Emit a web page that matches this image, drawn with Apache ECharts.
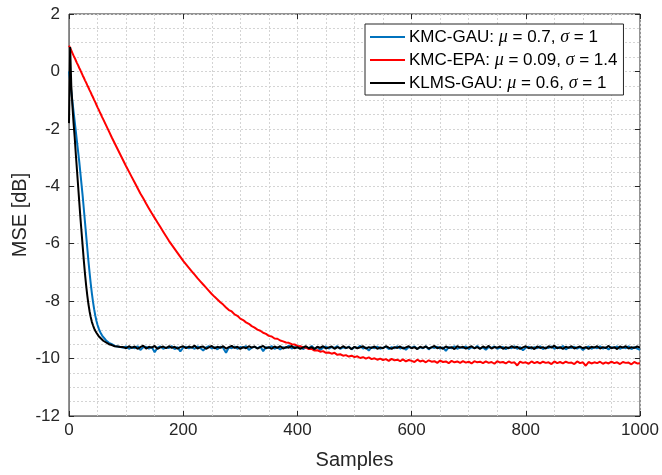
<!DOCTYPE html>
<html>
<head>
<meta charset="utf-8">
<script src="https://cdn.jsdelivr.net/npm/echarts@6/dist/echarts.min.js"></script>
<style>html,body{margin:0;padding:0;background:#fff}#c{width:662px;height:475px}</style>
</head>
<body>
<div id="c"></div>
<script>
const samples = [
  0,2,4,6,8,10,12,14,16,18,
  20,22,24,26,28,30,32,34,36,38,
  40,42,44,46,48,50,52,54,56,58,
  60,65,70,75,80,85,90,95,100,105,
  110,115,120,125,130,135,140,145,150,155,
  160,165,170,175,180,185,190,195,200,205,
  210,215,220,225,230,235,240,245,250,255,
  260,265,270,275,280,285,290,295,300,305,
  310,315,320,325,330,335,340,345,350,355,
  360,365,370,375,380,385,390,395,400,405,
  410,415,420,425,430,435,440,445,450,455,
  460,465,470,475,480,485,490,495,500,505,
  510,515,520,525,530,535,540,545,550,555,
  560,565,570,575,580,585,590,595,600,605,
  610,615,620,625,630,635,640,645,650,655,
  660,665,670,675,680,685,690,695,700,705,
  710,715,720,725,730,735,740,745,750,755,
  760,765,770,775,780,785,790,795,800,805,
  810,815,820,825,830,835,840,845,850,855,
  860,865,870,875,880,885,890,895,900,905,
  910,915,920,925,930,935,940,945,950,955,
  960,965,970,975,980,985,990,995,1000
];
const kmcGau = [
  0.0,-0.35,-0.7,-1.05,-1.4,-1.75,-2.1,-2.45,-2.8,-3.15,
  -3.55,-3.95,-4.35,-4.8,-5.25,-5.7,-6.15,-6.6,-7.0,-7.38,
  -7.72,-8.02,-8.28,-8.5,-8.68,-8.83,-8.95,-9.05,-9.13,-9.2,
  -9.26,-9.37,-9.45,-9.5,-9.56,-9.58,-9.6,-9.62,-9.58,-9.66,
  -9.6,-9.64,-9.57,-9.7,-9.61,-9.59,-9.65,-9.6,-9.78,-9.62,
  -9.58,-9.66,-9.61,-9.63,-9.57,-9.67,-9.6,-9.75,-9.62,-9.59,
  -9.64,-9.6,-9.66,-9.58,-9.63,-9.72,-9.61,-9.57,-9.65,-9.6,
  -9.68,-9.59,-9.63,-9.8,-9.61,-9.64,-9.58,-9.66,-9.6,-9.62,
  -9.57,-9.7,-9.62,-9.59,-9.64,-9.58,-9.74,-9.6,-9.63,-9.57,
  -9.66,-9.61,-9.68,-9.6,-9.63,-9.55,-9.65,-9.6,-9.62,-9.58,
  -9.67,-9.6,-9.64,-9.56,-9.66,-9.6,-9.7,-9.62,-9.58,-9.65,
  -9.6,-9.63,-9.57,-9.66,-9.61,-9.64,-9.58,-9.68,-9.6,-9.63,
  -9.56,-9.65,-9.61,-9.72,-9.6,-9.64,-9.58,-9.66,-9.62,-9.59,
  -9.67,-9.6,-9.64,-9.57,-9.65,-9.61,-9.69,-9.6,-9.63,-9.58,
  -9.66,-9.61,-9.64,-9.57,-9.68,-9.6,-9.63,-9.59,-9.65,-9.61,
  -9.73,-9.6,-9.64,-9.57,-9.66,-9.61,-9.63,-9.58,-9.67,-9.6,
  -9.64,-9.56,-9.65,-9.61,-9.69,-9.6,-9.63,-9.58,-9.66,-9.62,
  -9.6,-9.67,-9.61,-9.64,-9.57,-9.66,-9.6,-9.71,-9.62,-9.59,
  -9.65,-9.6,-9.64,-9.57,-9.67,-9.61,-9.63,-9.58,-9.66,-9.6,
  -9.64,-9.56,-9.68,-9.61,-9.63,-9.59,-9.65,-9.6,-9.7,-9.62,
  -9.58,-9.66,-9.6,-9.64,-9.57,-9.65,-9.61,-9.68,-9.6,-9.63,
  -9.58,-9.66,-9.61,-9.64,-9.57,-9.67,-9.6,-9.65,-9.7
];
const kmcEpa = [
  0.9,0.82,0.73,0.64,0.55,0.47,0.38,0.29,0.21,0.12,
  0.04,-0.05,-0.14,-0.22,-0.31,-0.39,-0.48,-0.56,-0.65,-0.73,
  -0.82,-0.9,-0.99,-1.07,-1.16,-1.25,-1.33,-1.42,-1.5,-1.59,
  -1.67,-1.88,-2.09,-2.3,-2.5,-2.7,-2.9,-3.1,-3.3,-3.49,
  -3.68,-3.87,-4.06,-4.25,-4.42,-4.6,-4.77,-4.94,-5.1,-5.26,
  -5.42,-5.58,-5.74,-5.9,-6.04,-6.18,-6.32,-6.46,-6.6,-6.72,
  -6.84,-6.96,-7.08,-7.2,-7.31,-7.42,-7.53,-7.64,-7.75,-7.85,
  -7.94,-8.04,-8.12,-8.22,-8.31,-8.36,-8.46,-8.51,-8.61,-8.66,
  -8.74,-8.79,-8.87,-8.92,-8.99,-9.03,-9.1,-9.14,-9.21,-9.23,
  -9.3,-9.31,-9.37,-9.4,-9.44,-9.45,-9.5,-9.51,-9.56,-9.57,
  -9.61,-9.62,-9.67,-9.66,-9.72,-9.71,-9.76,-9.74,-9.8,-9.79,
  -9.83,-9.8,-9.87,-9.85,-9.9,-9.88,-9.93,-9.9,-9.95,-9.92,
  -9.98,-9.95,-10.0,-9.96,-10.02,-9.99,-10.04,-10.0,-10.05,-10.02,
  -10.08,-10.01,-10.06,-10.04,-10.09,-10.03,-10.1,-10.05,-10.08,-10.12,
  -10.04,-10.1,-10.07,-10.13,-10.06,-10.11,-10.09,-10.15,-10.07,-10.12,
  -10.1,-10.16,-10.08,-10.13,-10.1,-10.15,-10.09,-10.14,-10.11,-10.17,
  -10.09,-10.13,-10.11,-10.16,-10.1,-10.15,-10.12,-10.18,-10.09,-10.14,
  -10.12,-10.17,-10.1,-10.15,-10.13,-10.24,-10.11,-10.15,-10.13,-10.18,
  -10.1,-10.16,-10.12,-10.17,-10.11,-10.15,-10.13,-10.19,-10.1,-10.16,
  -10.12,-10.17,-10.11,-10.15,-10.14,-10.19,-10.1,-10.16,-10.13,-10.25,
  -10.12,-10.17,-10.13,-10.16,-10.11,-10.18,-10.13,-10.17,-10.11,-10.16,
  -10.13,-10.19,-10.12,-10.15,-10.14,-10.2,-10.12,-10.17,-10.16
];
const klmsGau = [
  -1.8,0.85,-0.5,-1.2,-1.8,-2.3,-2.9,-3.45,-4.0,-4.55,
  -5.1,-5.6,-6.1,-6.6,-7.05,-7.45,-7.8,-8.1,-8.35,-8.55,
  -8.72,-8.84,-8.95,-9.03,-9.1,-9.16,-9.22,-9.26,-9.3,-9.34,
  -9.38,-9.44,-9.5,-9.53,-9.57,-9.58,-9.6,-9.6,-9.64,-9.57,
  -9.63,-9.58,-9.66,-9.6,-9.55,-9.65,-9.59,-9.62,-9.56,-9.66,
  -9.61,-9.58,-9.64,-9.57,-9.63,-9.59,-9.65,-9.6,-9.57,-9.64,
  -9.58,-9.62,-9.55,-9.65,-9.6,-9.58,-9.66,-9.61,-9.56,-9.64,
  -9.59,-9.63,-9.57,-9.65,-9.6,-9.56,-9.63,-9.59,-9.66,-9.6,
  -9.64,-9.57,-9.62,-9.58,-9.65,-9.6,-9.56,-9.64,-9.6,-9.66,
  -9.58,-9.63,-9.57,-9.65,-9.6,-9.62,-9.56,-9.64,-9.6,-9.66,
  -9.61,-9.57,-9.64,-9.6,-9.67,-9.59,-9.63,-9.57,-9.65,-9.61,
  -9.58,-9.66,-9.6,-9.64,-9.57,-9.63,-9.6,-9.67,-9.59,-9.64,
  -9.61,-9.57,-9.65,-9.6,-9.63,-9.58,-9.66,-9.61,-9.64,-9.57,
  -9.62,-9.66,-9.6,-9.63,-9.58,-9.65,-9.61,-9.57,-9.64,-9.6,
  -9.67,-9.59,-9.63,-9.58,-9.65,-9.61,-9.56,-9.64,-9.6,-9.66,
  -9.58,-9.63,-9.6,-9.67,-9.57,-9.62,-9.59,-9.65,-9.61,-9.57,
  -9.64,-9.6,-9.66,-9.58,-9.63,-9.56,-9.65,-9.6,-9.62,-9.58,
  -9.66,-9.6,-9.64,-9.57,-9.63,-9.59,-9.66,-9.61,-9.57,-9.64,
  -9.6,-9.67,-9.58,-9.63,-9.6,-9.65,-9.57,-9.62,-9.55,-9.64,
  -9.6,-9.66,-9.59,-9.63,-9.57,-9.65,-9.61,-9.58,-9.64,-9.6,
  -9.66,-9.59,-9.62,-9.57,-9.65,-9.6,-9.63,-9.56,-9.64,-9.6,
  -9.67,-9.58,-9.62,-9.57,-9.65,-9.6,-9.63,-9.58,-9.62
];
const seriesNames = ['KMC-GAU', 'KMC-EPA', 'KLMS-GAU'];
const legendTexts = {
  'KMC-GAU': 'KMC-GAU: {i|μ} = 0.7, {i|σ} = 1',
  'KMC-EPA': 'KMC-EPA: {i|μ} = 0.09, {i|σ} = 1.4',
  'KLMS-GAU': 'KLMS-GAU: {i|μ} = 0.6, {i|σ} = 1'
};
const xTicks = [0, 200, 400, 600, 800, 1000];
const yTicks = [-12, -10, -8, -6, -4, -2, 0, 2];

const pairs = vals => samples.map((s, k) => [s, vals[k]]);
const font = '"Liberation Sans", Arial, sans-serif';
const gridLine = { show: true, lineStyle: { color: '#d4d4d4', type: [2, 2], width: 1 } };

const chart = echarts.init(document.getElementById('c'), null, { renderer: 'canvas' });
chart.setOption({
  animation: false,
  backgroundColor: '#fff',
  grid: { left: 69, right: 22, top: 14, bottom: 59, containLabel: false, outerBoundsMode: 'none', show: true, borderColor: '#262626', borderWidth: 1, backgroundColor: 'transparent' },
  legend: {
    data: seriesNames,
    orient: 'vertical',
    left: 365, top: 24,
    itemWidth: 35, itemHeight: 2, itemGap: 5,
    padding: [4, 6, 3, 5],
    backgroundColor: '#fff',
    borderColor: '#262626', borderWidth: 1,
    icon: 'rect',
    formatter: n => legendTexts[n],
    textStyle: {
      fontFamily: font, fontSize: 17, color: '#000', padding: [0, 0, 0, -1],
      rich: { i: { fontFamily: '"Liberation Serif", serif', fontStyle: 'italic', fontSize: 18, color: '#000' } }
    }
  },
  xAxis: [{
    type: 'value', min: 0, max: 1000, interval: 200,
    name: 'Samples', nameLocation: 'middle', nameGap: 34,
    nameTextStyle: { fontFamily: font, fontSize: 20, color: '#262626' },
    axisLine: { show: true, onZero: false, lineStyle: { color: '#808080', width: 1 } },
    axisTick: { show: true, inside: true, length: 5, lineStyle: { color: '#262626' } },
    axisLabel: { fontFamily: font, fontSize: 17, color: '#262626', margin: 6, formatter: v => xTicks.includes(v) ? String(v) : '' },
    splitLine: gridLine,
    minorTick: { show: false, splitNumber: 4 },
    minorSplitLine: gridLine
  }, {
    type: 'value', position: 'top', min: 0, max: 1000, interval: 200,
    axisLine: { show: false, onZero: false },
    axisTick: { show: true, inside: true, length: 5, lineStyle: { color: '#262626' } },
    axisLabel: { show: false }, splitLine: { show: false }
  }],
  yAxis: [{
    type: 'value', min: -12, max: 2, interval: 2,
    name: 'MSE [dB]', nameLocation: 'middle', nameGap: 39, nameMoveOverlap: false,
    nameTextStyle: { fontFamily: font, fontSize: 20, color: '#262626' },
    axisLine: { show: true, onZero: false, lineStyle: { color: '#808080', width: 1 } },
    axisTick: { show: true, inside: true, length: 5, lineStyle: { color: '#262626' } },
    axisLabel: { fontFamily: font, fontSize: 17, color: '#262626', margin: 9, formatter: v => yTicks.includes(v) ? String(v) : '' },
    splitLine: gridLine,
    minorTick: { show: false, splitNumber: 4 },
    minorSplitLine: gridLine
  }, {
    type: 'value', position: 'right', min: -12, max: 2, interval: 2,
    axisLine: { show: false, onZero: false },
    axisTick: { show: true, inside: true, length: 5, lineStyle: { color: '#262626' } },
    axisLabel: { show: false }, splitLine: { show: false }
  }],
  series: [
    { name: 'KMC-GAU', type: 'line', data: pairs(kmcGau), showSymbol: false, symbol: 'none', color: '#0072BD', lineStyle: { width: 2, color: '#0072BD' }, z: 3 },
    { name: 'KMC-EPA', type: 'line', data: pairs(kmcEpa), showSymbol: false, symbol: 'none', color: '#FF0000', lineStyle: { width: 2, color: '#FF0000' }, z: 4 },
    { name: 'KLMS-GAU', type: 'line', data: pairs(klmsGau), showSymbol: false, symbol: 'none', color: '#000000', lineStyle: { width: 2, color: '#000000' }, z: 5 }
  ]
});
</script>
</body>
</html>
